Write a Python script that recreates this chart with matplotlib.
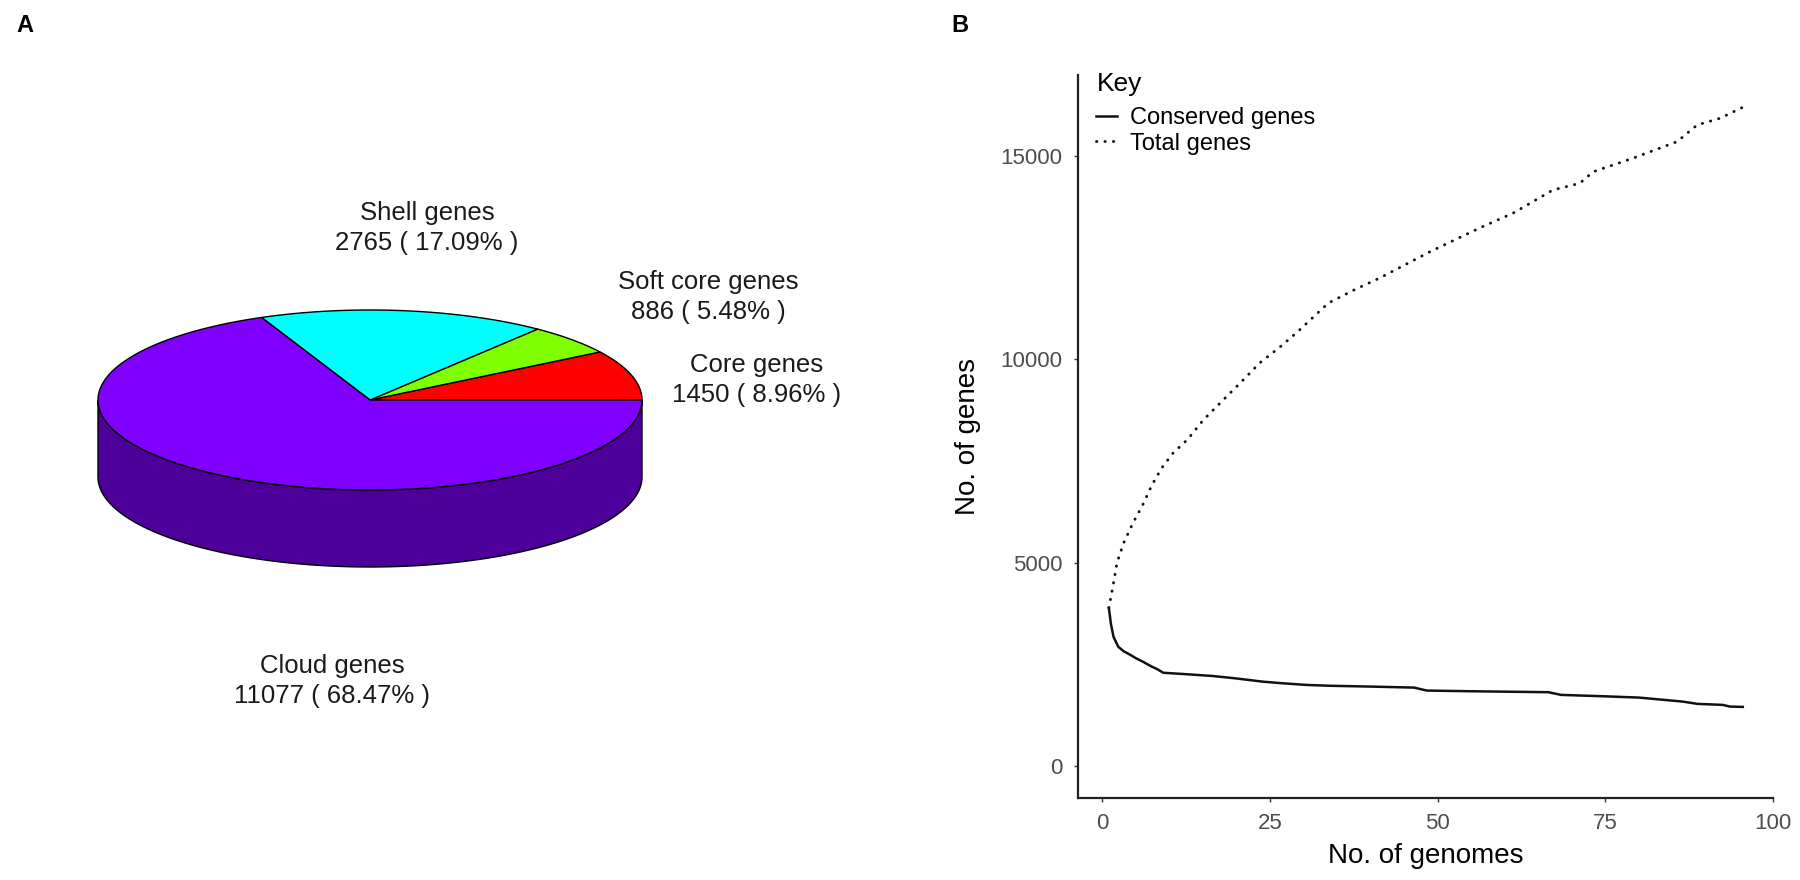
import numpy as np
import matplotlib
matplotlib.use("Agg")
import matplotlib.pyplot as plt
from matplotlib.patches import Polygon
from matplotlib.colors import to_rgb

plt.rcParams['font.family'] = ['Liberation Sans', 'DejaVu Sans']

# ---- panel A data (pie) ----
pie_names = ["Core genes", "Soft core genes", "Shell genes", "Cloud genes"]
pie_counts = [1450, 886, 2765, 11077]
pie_colors = ["#FF0000", "#80FF00", "#00FFFF", "#8000FF"]

# ---- panel B data (accumulation curves) ----
total_x = [1, 1.7, 2.2, 3.2, 4.6, 6.0, 7.4, 8.9, 10.6, 12.7, 15.1, 17.6, 20.6, 23.5,
           26.5, 29.1, 31.5, 33.7, 37.5, 41.4, 48.9, 56.3, 61.3, 67.2, 71.2, 73.2,
           79.1, 85.7, 88.7, 92.1, 95.5]
total_y = [3885, 4500, 4990, 5480, 5975, 6400, 6900, 7330, 7700, 8020, 8510, 8925,
           9420, 9910, 10300, 10670, 11040, 11380, 11700, 12000, 12646, 13230, 13597,
           14163, 14327, 14612, 14942, 15351, 15761, 15926, 16197]
conserved_x = [1, 1.3, 1.7, 2.4, 3.2, 4.2, 5.0, 6.1, 7.4, 8.2, 9.1, 12, 16.5, 20, 24,
               27, 30.5, 34, 40, 46.5, 48.4, 55, 60, 66.5, 68.4, 75, 80, 86.6, 88.7,
               92.5, 93.6, 95.5]
conserved_y = [3885, 3500, 3170, 2930, 2820, 2730, 2650, 2560, 2440, 2380, 2290, 2260,
               2210, 2150, 2070, 2030, 1990, 1970, 1950, 1925, 1852, 1835, 1825, 1812,
               1746, 1710, 1680, 1580, 1525, 1500, 1458, 1450]
x_ticks = [0, 25, 50, 75, 100]
y_ticks = [0, 5000, 10000, 15000]

fig = plt.figure(figsize=(18, 8.8), dpi=100)

# ---------------- panel A ----------------
axA = fig.add_axes([0, 0, 0.5, 1])
axA.set_xlim(0, 900)
axA.set_ylim(880, 0)
axA.axis("off")

cx, cy, rx, ry, depth = 370, 400, 272, 90, 77


def arc(t0, t1, dy=0.0):
    t = np.radians(np.linspace(t0, t1, 200))
    return np.column_stack([cx + rx * np.cos(t), cy - ry * np.sin(t) + dy])


def shade(c, f=0.6):
    r, g, b = to_rgb(c)
    return (r * f, g * f, b * f)


total = sum(pie_counts)
bounds = np.concatenate([[0], np.cumsum(pie_counts) / total * 360])

# sides first (only the front half is visible)
for i, col in enumerate(pie_colors):
    a, b = max(bounds[i], 180), min(bounds[i + 1], 360)
    if a < b:
        pts = np.vstack([arc(a, b), arc(a, b, depth)[::-1]])
        axA.add_patch(Polygon(pts, closed=True, facecolor=shade(col),
                              edgecolor="black", lw=1.0))

for i, col in enumerate(pie_colors):
    pts = np.vstack([[cx, cy], arc(bounds[i], bounds[i + 1])])
    axA.add_patch(Polygon(pts, closed=True, facecolor=col,
                          edgecolor="black", lw=1.0))

label_pos = [(757, 380), (708, 297), (427, 228), (332, 681)]
for name, cnt, (lx, ly) in zip(pie_names, pie_counts, label_pos):
    pct = cnt / total * 100
    axA.text(lx, ly, f"{name}\n{cnt} ( {pct:.2f}% )", ha="center", va="center",
             fontsize=18.5, color="#1a1a1a", linespacing=1.3)

fig.text(16 / 1800, 1 - 25 / 880, "A", fontsize=17, fontweight="bold",
         ha="left", va="center")
fig.text(951 / 1800, 1 - 25 / 880, "B", fontsize=17, fontweight="bold",
         ha="left", va="center")

# ---------------- panel B ----------------
axB = fig.add_axes([1078 / 1800, (880 - 798) / 880, 695 / 1800, 723 / 880])
axB.plot(conserved_x, conserved_y, color="#111111", lw=1.8, label="Conserved genes",
         solid_joinstyle="round")
axB.plot(total_x, total_y, color="#111111", lw=2.1, linestyle=(0, (0.1, 2.8)),
         dash_capstyle="round", label="Total genes")

axB.set_xlim(-3.6, 100)
axB.set_ylim(-790, 16990)
axB.set_xticks(x_ticks)
axB.set_yticks(y_ticks)
axB.set_xticklabels([str(v) for v in x_ticks])
axB.set_yticklabels([str(v) for v in y_ticks])
for s in ["top", "right"]:
    axB.spines[s].set_visible(False)
for s in ["left", "bottom"]:
    axB.spines[s].set_color("#222222")
    axB.spines[s].set_linewidth(1.6)
axB.tick_params(axis="both", length=3, width=1, color="#333333",
                labelcolor="#4D4D4D", labelsize=16, pad=8)
axB.set_xlabel("No. of genomes", fontsize=20, labelpad=6)
axB.set_ylabel("No. of genes", fontsize=20, labelpad=14)

# legend: title drawn separately so the gap below it matches
fig.text(1097 / 1800, 1 - 84 / 880, "Key", fontsize=19, ha="left", va="center")
leg = axB.legend(loc="upper left",
                 bbox_to_anchor=(1096 / 1800, 1 - 107 / 880),
                 bbox_transform=fig.transFigure, frameon=False,
                 fontsize=17, handlelength=0.9,
                 handletextpad=0.55, labelspacing=0.15, borderpad=0,
                 borderaxespad=0)

fig.savefig("out.png", dpi=100, facecolor="white")
